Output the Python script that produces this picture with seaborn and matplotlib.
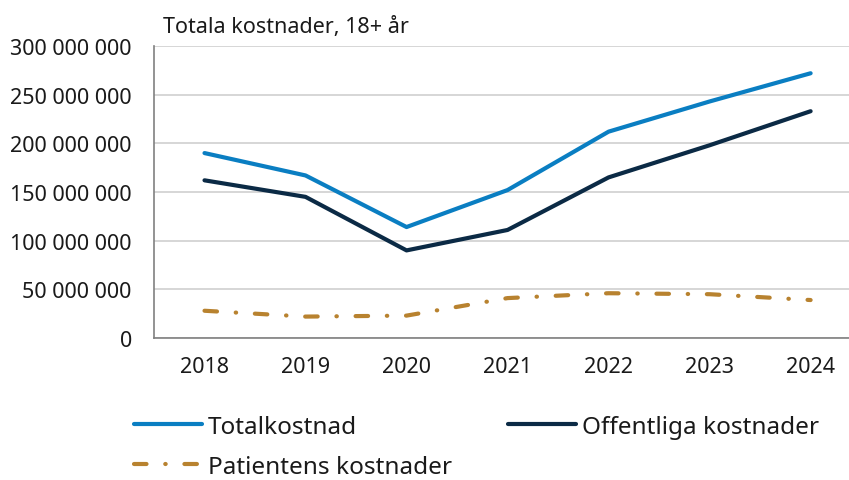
import matplotlib.pyplot as plt
import matplotlib.ticker as mticker
import seaborn as sns
import pandas as pd

# Data
years = [2018, 2019, 2020, 2021, 2022, 2023, 2024]
totalkostnad = [190e6, 167e6, 114e6, 152e6, 212e6, 243e6, 272e6]
offentliga = [162e6, 145e6, 90e6, 111e6, 165e6, 198e6, 233e6]
patientens = [28e6, 22e6, 23e6, 41e6, 46e6, 45e6, 39e6]

series_names = ["Totalkostnad", "Offentliga kostnader", "Patientens kostnader"]
colors = ["#0a7ec2", "#0b2a45", "#b8822f"]
dash_dot = (3, 4.5, 0.1, 4.5)

df = pd.DataFrame({
    "year": years * 3,
    "value": totalkostnad + offentliga + patientens,
    "serie": [series_names[0]] * 7 + [series_names[1]] * 7 + [series_names[2]] * 7,
})

sns.set_style("white")
plt.rcParams["font.family"] = ["Noto Sans", "DejaVu Sans"]

fig = plt.figure(figsize=(8.49, 4.81), dpi=100)
ax = fig.add_axes([154 / 849, 1 - 339 / 481, 1 - 154 / 849, (339 - 47) / 481])

sns.lineplot(
    data=df, x="year", y="value", hue="serie", style="serie",
    palette=dict(zip(series_names, colors)),
    dashes={series_names[0]: "", series_names[1]: "", series_names[2]: dash_dot},
    linewidth=3, ax=ax, legend=False,
)
for line in ax.lines:
    line.set_solid_capstyle("round")
    line.set_dash_capstyle("round")

ax.set_xlim(2017.5, 2024.38)
ax.set_ylim(0, 300e6)
ax.yaxis.set_major_locator(mticker.MultipleLocator(50e6))
ax.yaxis.set_major_formatter(
    mticker.FuncFormatter(lambda v, p: f"{int(v):,}".replace(",", " "))
)
ax.set_xticks(years)
ax.set_xticks([y - 0.5 for y in years], minor=True)
ax.tick_params(axis="x", which="major", length=0, pad=13, labelsize=15.5, colors="#1a1a1a")
ax.tick_params(axis="x", which="minor", length=7, width=1.2, color="#808080")
ax.tick_params(axis="y", length=0, pad=16, labelsize=15.5, colors="#1a1a1a")
ax.set_xlabel("")
ax.set_ylabel("")

ax.grid(axis="y", color="#d0d0d0", linewidth=1.2)
ax.set_axisbelow(True)
for side in ["top", "right"]:
    ax.spines[side].set_visible(False)
for side in ["left", "bottom"]:
    ax.spines[side].set_color("#808080")
    ax.spines[side].set_linewidth(1.2)

fig.text(163 / 849, 1 - 27 / 481, "Totala kostnader, 18+ år", fontsize=15.5,
         color="#1a1a1a", va="center", ha="left")

# Legend, one entry per position
handles = [
    plt.Line2D([], [], color=colors[0], linewidth=3, solid_capstyle="round"),
    plt.Line2D([], [], color=colors[1], linewidth=3, solid_capstyle="round"),
    plt.Line2D([], [], color=colors[2], linewidth=3, dashes=dash_dot,
               dash_capstyle="round"),
]
positions = [(134, 428), (508, 428), (134, 468)]
for h, name, (px, py) in zip(handles, series_names, positions):
    fig.legend([h], [name], loc="center left", bbox_to_anchor=(px / 849, 1 - py / 481),
               frameon=False, fontsize=17.5, handlelength=2.8, handletextpad=0.25,
               borderaxespad=0, borderpad=0, labelcolor="#1a1a1a")

fig.savefig("out.png", dpi=100)
plt.close(fig)
